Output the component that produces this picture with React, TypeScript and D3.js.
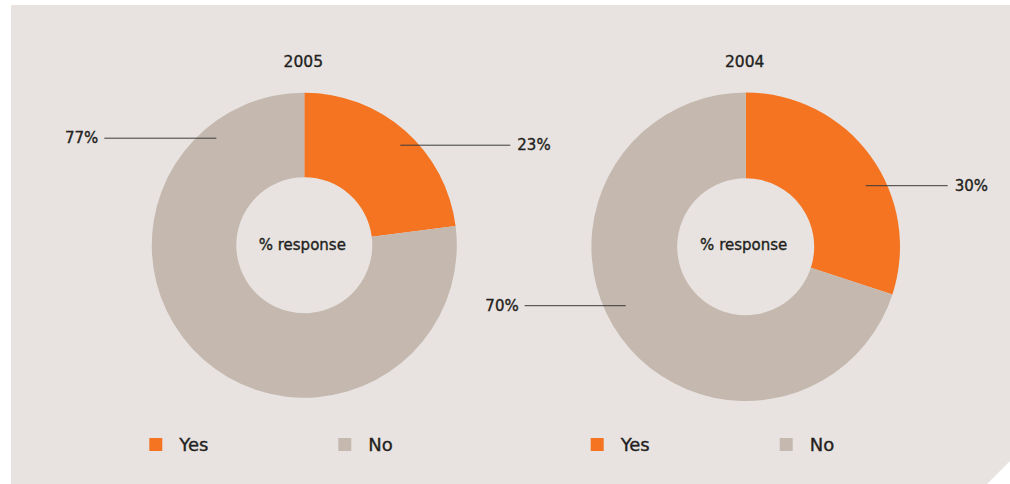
import React from "react";
import * as d3 from "d3";

const categories = ["Yes", "No"];
const years = ["2005", "2004"];
const values2005 = [23, 77];
const values2004 = [30, 70];
const seriesValues = [values2005, values2004];
const colors = ["#F47421", "#C4B8AF"];
const centerLabel = "% response";

// label anchor offsets from each donut's centre: [dxInner, dy, dxOuter]
const labelOffsets = [
  [
    [96, -100, 206],
    [-88, -107, -200],
  ],
  [
    [120, -61, 202],
    [-120, 59, -221],
  ],
];

const W = 1010;
const H = 484;
const FONT = "'DejaVu Sans', 'Noto Sans', sans-serif";
const TEXT = "#231F20";
const textStyle = {
  fontFamily: FONT,
  fill: TEXT,
  stroke: TEXT,
  strokeWidth: 0.35,
};

const charts = [
  { cx: 304.3, cy: 245.2, r: 152.5, ir: 68 },
  { cx: 745.7, cy: 246.7, r: 154.3, ir: 68.5 },
];

export default function App() {
  const pie = d3
    .pie<number>()
    .sort(null)
    .value((d) => d);

  return (
    <svg
      width={W}
      height={H}
      style={{ position: "absolute", left: 0, top: 0, display: "block" }}
    >
      <rect x={0} y={0} width={W} height={H} fill="#ffffff" />
      <polygon
        points={`11,5 ${W},5 ${W},461 987,${H} 11,${H}`}
        fill="#E8E3E0"
      />
      {charts.map((c, ci) => {
        const arc = d3
          .arc<d3.PieArcDatum<number>>()
          .innerRadius(c.ir)
          .outerRadius(c.r);
        const arcs = pie(seriesValues[ci]);
        return (
          <g key={ci}>
            <text
              x={c.cx - 1}
              y={67}
              textAnchor="middle"
              fontSize={15.5}
              style={textStyle}
            >
              {years[ci]}
            </text>
            <g transform={`translate(${c.cx},${c.cy})`}>
              {arcs.map((a, i) => (
                <path key={i} d={arc(a) || ""} fill={colors[i]} />
              ))}
              <text
                x={-2}
                y={250 - c.cy}
                textAnchor="middle"
                fontSize={15}
                style={textStyle}
              >
                {centerLabel}
              </text>
              {arcs.map((a, i) => {
                const [dx1, dy, dx2] = labelOffsets[ci][i];
                const right = dx2 > dx1;
                return (
                  <g key={"l" + i}>
                    <line
                      x1={dx1}
                      x2={dx2}
                      y1={dy}
                      y2={dy}
                      stroke="#3a3a3a"
                      strokeWidth={1}
                    />
                    <text
                      x={right ? dx2 + 7 : dx2 - 6}
                      y={dy + 5}
                      textAnchor={right ? "start" : "end"}
                      fontSize={15}
                      style={textStyle}
                    >
                      {`${a.data}%`}
                    </text>
                  </g>
                );
              })}
            </g>
            {categories.map((cat, i) => {
              const lx = c.cx - 155 + i * 189;
              return (
                <g key={"lg" + i}>
                  <rect x={lx} y={438} width={13} height={13} fill={colors[i]} />
                  <text x={lx + 30} y={451} fontSize={18} style={textStyle}>
                    {cat}
                  </text>
                </g>
              );
            })}
          </g>
        );
      })}
    </svg>
  );
}
